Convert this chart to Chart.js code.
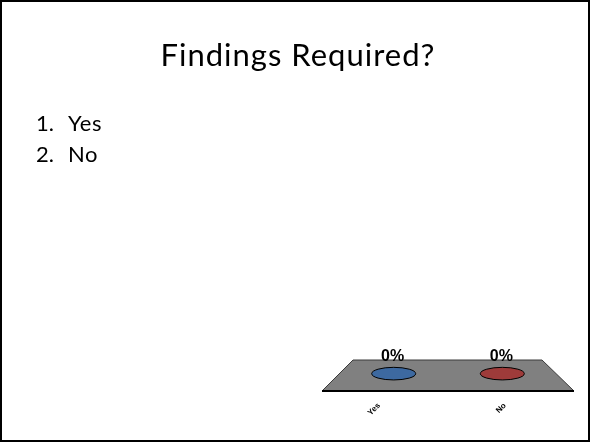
<!DOCTYPE html>
<html>
<head>
<meta charset="utf-8">
<script src="https://cdn.jsdelivr.net/npm/chart.js"></script>
<style>
  html, body { margin: 0; padding: 0; background: #fff; }
  .slide { position: relative; width: 591px; height: 443px; overflow: hidden; font-family: Lato, "Open Sans", sans-serif; color: #000; }
  .frame { position: absolute; left: 0; top: 0; width: 590px; height: 442px; box-sizing: border-box; border: 2px solid #000; }
  .title { position: absolute; left: 0; width: 596px; top: 39px; text-align: center; font-size: 31px; line-height: 31px; letter-spacing: 1px; white-space: nowrap; }
  .item { position: absolute; left: 36px; font-size: 22px; line-height: 22px; white-space: nowrap; }
  .item span { position: absolute; left: 32px; letter-spacing: 0.5px; }
  #chartBox { position: absolute; left: 0; top: 0; }
</style>
</head>
<body>
<div class="slide">
  <canvas id="chartBox" width="591" height="443"></canvas>
  <div class="frame"></div>
  <div class="title">Findings Required?</div>
  <div class="item" style="top: 112px;">1.<span>Yes</span></div>
  <div class="item" style="top: 143px;">2.<span>No</span></div>
</div>

<script>
const categories = ['Yes', 'No'];
const responses = [0, 0];
const barColors = ['#3D69A0', '#9E3B3A'];

// grey 3D floor + flat tops of the zero-height columns, projected from the bar elements
const floor3d = {
    id: 'floor3d',
    beforeDatasetsDraw(chart) {
        const { ctx, chartArea: { left, right } } = chart;
        const y0 = chart.scales.y.getPixelForValue(0);
        ctx.save();
        ctx.beginPath();
        ctx.moveTo(left, y0);
        ctx.lineTo(right, y0);
        ctx.lineTo(right - 32, y0 - 31);
        ctx.lineTo(left + 31, y0 - 31);
        ctx.closePath();
        ctx.fillStyle = '#808080';
        ctx.fill();
        ctx.strokeStyle = '#3a3a3a';
        ctx.lineWidth = 1;
        ctx.stroke();
        ctx.beginPath();
        ctx.moveTo(left, y0);
        ctx.lineTo(right, y0);
        ctx.strokeStyle = '#000';
        ctx.lineWidth = 2;
        ctx.stroke();
        ctx.restore();
    },
    afterDatasetsDraw(chart) {
        const { ctx, chartArea: { left, right } } = chart;
        const y0 = chart.scales.y.getPixelForValue(0);
        const cx = (left + right) / 2;
        const depth = 0.56;
        const shrink = 1 - depth * 0.246;
        const meta = chart.getDatasetMeta(0);
        ctx.save();
        meta.data.forEach((bar, i) => {
            const x = cx + (bar.x - cx) * shrink;
            const y = bar.y - depth * 31;
            ctx.beginPath();
            ctx.ellipse(x, y, 22, 6.3, 0, 0, Math.PI * 2);
            ctx.fillStyle = barColors[i];
            ctx.fill();
            ctx.strokeStyle = '#000';
            ctx.lineWidth = 1;
            ctx.stroke();

            ctx.fillStyle = '#000';
            ctx.font = 'bold 16px "Liberation Sans", Arial, sans-serif';
            ctx.textAlign = 'center';
            ctx.textBaseline = 'alphabetic';
            ctx.fillText(responses[i] + '%', x - 1, y0 - 30.5);
        });
        ctx.restore();
    }
};

new Chart(document.getElementById('chartBox'), {
    type: 'bar',
    data: {
        labels: categories,
        datasets: [{
            data: responses,
            backgroundColor: barColors,
            borderWidth: 0
        }]
    },
    options: {
        responsive: false,
        animation: false,
        devicePixelRatio: 1,
        layout: { padding: { left: 322, right: 17, top: 300, bottom: 0 } },
        plugins: { legend: { display: false }, tooltip: { enabled: false } },
        scales: {
            x: {
                grid: { display: false, drawTicks: false },
                border: { display: false },
                ticks: {
                    autoSkip: false,
                    minRotation: 45,
                    maxRotation: 45,
                    padding: 10,
                    labelOffset: -6,
                    color: '#000',
                    font: { family: '"Liberation Sans", Arial, sans-serif', size: 8, weight: 'bold' }
                },
                afterFit(scale) { scale.height = 52; }
            },
            y: { display: false, min: 0, max: 100 }
        }
    },
    plugins: [floor3d]
});
</script>
</body>
</html>
